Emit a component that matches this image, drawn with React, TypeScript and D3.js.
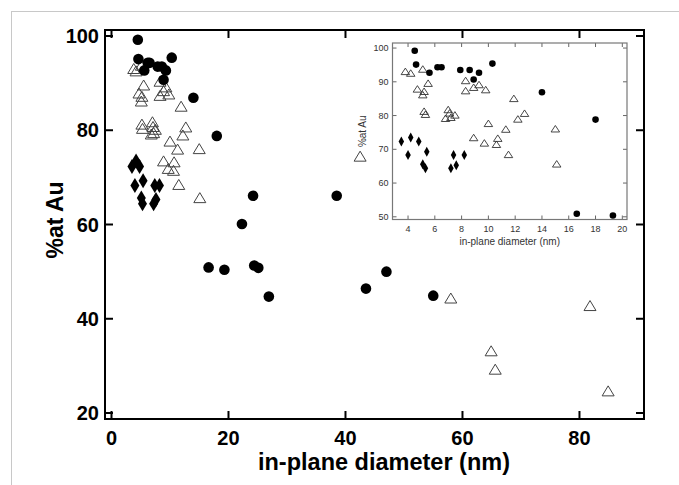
import React from 'react';
import * as d3 from 'd3';

// Filled circles
const circleDiam = [4.5, 4.6, 5.6, 6.2, 6.5, 7.9, 8.6, 8.9, 9.3, 10.3, 14.0, 16.6, 18.0, 19.3, 22.3, 24.2, 24.4, 25.1, 26.9, 38.5, 43.5, 47.0, 55.0];
const circleAu = [99.2, 95.1, 92.7, 94.3, 94.3, 93.5, 93.5, 90.7, 92.7, 95.4, 86.9, 50.9, 78.8, 50.4, 60.1, 66.1, 51.3, 50.8, 44.7, 66.1, 46.4, 50.0, 44.9];

// Open triangles
const triangleDiam = [3.8, 4.2, 5.1, 5.5, 4.7, 5.2, 5.1, 5.2, 5.3, 7.0, 7.1, 6.8, 7.2, 7.5, 8.3, 8.3, 8.9, 9.3, 9.8, 10.0, 8.9, 9.7, 10.7, 10.6, 11.3, 11.5, 11.9, 12.2, 12.7, 15.0, 15.1, 42.5, 58.0, 64.9, 65.6, 81.8, 84.9];
const triangleAu = [93.1, 92.6, 93.8, 89.6, 87.9, 87.2, 86.2, 81.3, 80.4, 81.8, 80.8, 79.2, 79.5, 80.2, 90.4, 87.4, 88.4, 89.2, 87.7, 77.7, 73.5, 71.9, 73.3, 71.5, 76.0, 68.5, 85.1, 79.0, 80.7, 76.1, 65.7, 74.5, 44.4, 33.2, 29.3, 42.8, 24.7];

// Filled diamonds
const diamondDiam = [3.5, 4.0, 4.2, 4.8, 5.4, 5.1, 5.3, 7.2, 7.4, 7.6, 8.2];
const diamondAu = [72.3, 68.3, 73.5, 72.3, 69.3, 65.6, 64.4, 64.4, 68.3, 65.3, 68.3];

const mainXTicks = [0, 20, 40, 60, 80];
const mainYTicks = [20, 40, 60, 80, 100];
const insetXTicks = [4, 6, 8, 10, 12, 14, 16, 18, 20];
const insetYTicks = [50, 60, 70, 80, 90, 100];

const FONT = '"Liberation Sans", Arial, sans-serif';

const tri = (cx: number, cy: number, w: number, h: number) =>
  `M${cx - w / 2},${cy + h / 2}L${cx + w / 2},${cy + h / 2}L${cx},${cy - h / 2}Z`;
const dia = (cx: number, cy: number, w: number, h: number) =>
  `M${cx},${cy - h / 2}L${cx + w / 2},${cy}L${cx},${cy + h / 2}L${cx - w / 2},${cy}Z`;

const zip = (xs: number[], ys: number[]) => xs.map((x, i) => ({ x, y: ys[i] }));

export default function App() {
  // main plot frame
  const m = { left: 105, right: 644, top: 30, bottom: 419 };
  const x = d3.scaleLinear().domain([-1.11, 91.03]).range([m.left, m.right]);
  const y = d3.scaleLinear().domain([18.73, 101.27]).range([m.bottom, m.top]);

  // inset frame
  const n = { left: 392.5, right: 627, top: 43, bottom: 219.5 };
  const xi = d3.scaleLinear().domain([2.84, 20.35]).range([n.left, n.right]);
  const yi = d3.scaleLinear().domain([49.2, 101.5]).range([n.bottom, n.top]);

  const circles = zip(circleDiam, circleAu);
  const triangles = zip(triangleDiam, triangleAu);
  const diamonds = zip(diamondDiam, diamondAu);

  const inInset = (d: { x: number; y: number }) =>
    d.x >= xi.domain()[0] && d.x <= xi.domain()[1] && d.y >= yi.domain()[0] && d.y <= yi.domain()[1];

  const tk = 8;
  const ti = 4;

  return (
    <svg width={679} height={485} style={{ position: 'absolute', left: 0, top: 0, background: '#fff' }}>
      <rect x={11.5} y={11.5} width={700} height={500} fill="none" stroke="#c8c8c8" strokeWidth={1} />

      {/* main axes ticks */}
      <g stroke="#000" strokeWidth={2}>
        {mainXTicks.map(t => (
          <g key={'mx' + t}>
            <line x1={x(t)} x2={x(t)} y1={m.bottom} y2={m.bottom - tk} />
            <line x1={x(t)} x2={x(t)} y1={m.top} y2={m.top + tk} />
          </g>
        ))}
        {mainYTicks.map(t => (
          <g key={'my' + t}>
            <line x1={m.left} x2={m.left + tk} y1={y(t)} y2={y(t)} />
            <line x1={m.right} x2={m.right - tk} y1={y(t)} y2={y(t)} />
          </g>
        ))}
      </g>
      <rect x={m.left} y={m.top} width={m.right - m.left} height={m.bottom - m.top} fill="none" stroke="#000" strokeWidth={2} />

      <g fontFamily={FONT} fontWeight="bold" fontSize={20} fill="#000">
        {mainXTicks.map(t => (
          <text key={'lx' + t} x={x(t)} y={445} textAnchor="middle">{t}</text>
        ))}
        {mainYTicks.map(t => (
          <text key={'ly' + t} x={99} y={y(t)} dy="0.36em" textAnchor="end">{t}</text>
        ))}
      </g>
      <text x={384} y={470} textAnchor="middle" fontFamily={FONT} fontWeight="bold" fontSize={23.5}>
        in-plane diameter (nm)
      </text>
      <text transform={`translate(63,220) rotate(-90)`} textAnchor="middle" fontFamily={FONT} fontWeight="bold" fontSize={23}>
        %at Au
      </text>

      {/* main markers */}
      <g>
        {triangles.map((d, i) => (
          <path key={'t' + i} d={tri(x(d.x), y(d.y), 12, 10)} fill="none" stroke="#444" strokeWidth={1} />
        ))}
        {diamonds.map((d, i) => (
          <path key={'d' + i} d={dia(x(d.x), y(d.y), 9, 15)} fill="#000" />
        ))}
        {circles.map((d, i) => (
          <circle key={'c' + i} cx={x(d.x)} cy={y(d.y)} r={5.3} fill="#000" />
        ))}
      </g>

      {/* inset */}
      <rect x={n.left} y={n.top} width={n.right - n.left} height={n.bottom - n.top} fill="#fff" stroke="none" />
      <g stroke="#666" strokeWidth={1}>
        {insetXTicks.map(t => (
          <g key={'ix' + t}>
            <line x1={xi(t)} x2={xi(t)} y1={n.bottom} y2={n.bottom - ti} />
            <line x1={xi(t)} x2={xi(t)} y1={n.top} y2={n.top + ti} />
          </g>
        ))}
        {insetYTicks.map(t => (
          <g key={'iy' + t}>
            <line x1={n.left} x2={n.left + ti} y1={yi(t)} y2={yi(t)} />
            <line x1={n.right} x2={n.right - ti} y1={yi(t)} y2={yi(t)} />
          </g>
        ))}
      </g>
      <rect x={n.left} y={n.top} width={n.right - n.left} height={n.bottom - n.top} fill="none" stroke="#777" strokeWidth={1.2} />
      <g fontFamily={FONT} fontSize={9} fill="#333">
        {insetXTicks.map(t => (
          <text key={'ilx' + t} x={xi(t)} y={232} textAnchor="middle">{t}</text>
        ))}
        {insetYTicks.map(t => (
          <text key={'ily' + t} x={n.left - 4} y={yi(t)} dy="0.35em" textAnchor="end">{t}</text>
        ))}
      </g>
      <text x={(n.left + n.right) / 2} y={245} textAnchor="middle" fontFamily={FONT} fontSize={10} fill="#333">
        in-plane diameter (nm)
      </text>
      <text transform={`translate(366,${(n.top + n.bottom) / 2}) rotate(-90)`} textAnchor="middle" fontFamily={FONT} fontSize={10} fill="#333">
        %at Au
      </text>
      <g>
        {triangles.filter(inInset).map((d, i) => (
          <path key={'it' + i} d={tri(xi(d.x), yi(d.y), 8.5, 6.5)} fill="none" stroke="#333" strokeWidth={0.9} />
        ))}
        {diamonds.filter(inInset).map((d, i) => (
          <path key={'id' + i} d={dia(xi(d.x), yi(d.y), 5.5, 10)} fill="#000" />
        ))}
        {circles.filter(inInset).map((d, i) => (
          <circle key={'ic' + i} cx={xi(d.x)} cy={yi(d.y)} r={3.3} fill="#000" />
        ))}
      </g>
    </svg>
  );
}
